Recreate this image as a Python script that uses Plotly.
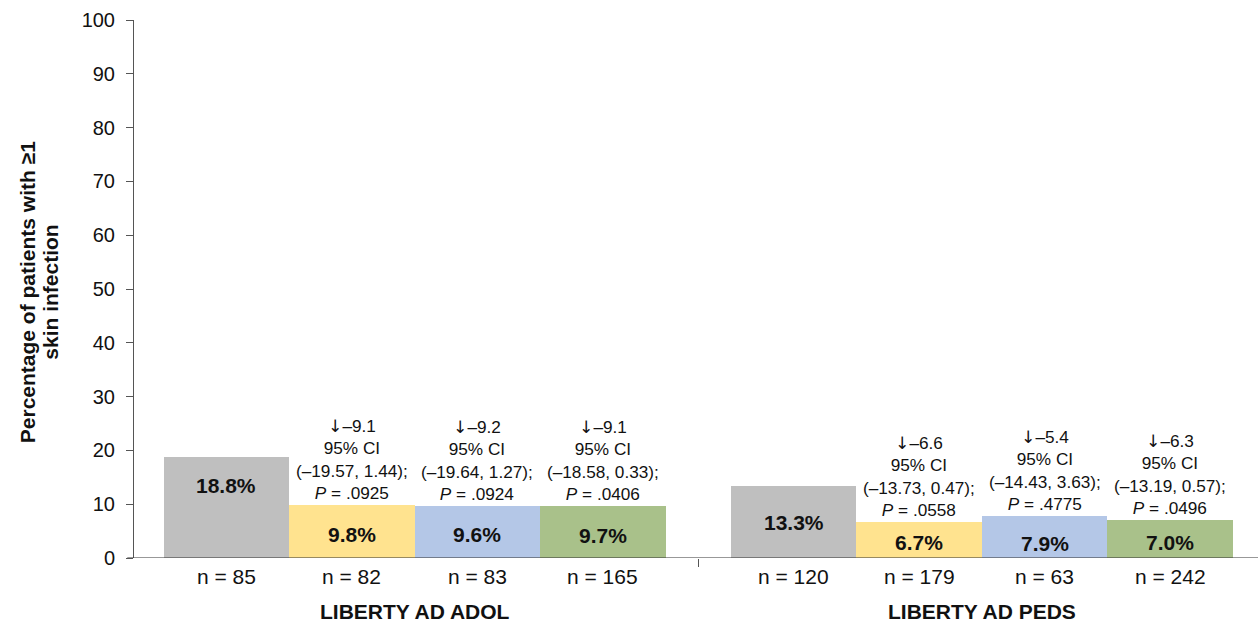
import plotly.graph_objects as go

# Trial data: % of patients with >=1 skin infection
groups = ["LIBERTY AD ADOL", "LIBERTY AD PEDS"]
adol_values = [18.8, 9.8, 9.6, 9.7]
peds_values = [13.3, 6.7, 7.9, 7.0]
adol_n = [85, 82, 83, 165]
peds_n = [120, 179, 63, 242]
adol_diff = [None, "–9.1", "–9.2", "–9.1"]
peds_diff = [None, "–6.6", "–5.4", "–6.3"]
adol_ci = [None, "(–19.57, 1.44)", "(–19.64, 1.27)", "(–18.58, 0.33)"]
peds_ci = [None, "(–13.73, 0.47)", "(–14.43, 3.63)", "(–13.19, 0.57)"]
adol_p = [None, ".0925", ".0924", ".0406"]
peds_p = [None, ".0558", ".4775", ".0496"]
y_ticks = [0, 10, 20, 30, 40, 50, 60, 70, 80, 90, 100]
y_title = ["Percentage of patients with ≥1", "skin infection"]

bar_colors = ["#BFBFBF", "#FFE38F", "#B4C7E7", "#A9C18A"]
# vertical placement of the value label inside each bar (fraction of bar height)
label_frac = [[0.72, 0.44, 0.45, 0.44], [0.49, 0.42, 0.35, 0.40]]

FONT = "Liberation Sans, Arial, Helvetica, sans-serif"
INK = "#111111"
GAP = 0.52  # spacing between the two trial groups, in bar widths

values = [adol_values, peds_values]
ns = [adol_n, peds_n]
diffs = [adol_diff, peds_diff]
cis = [adol_ci, peds_ci]
ps = [adol_p, peds_p]

fig = go.Figure()
annotations = []
for g in range(2):
    xs = [g * (4 + GAP) + i for i in range(4)]
    fig.add_trace(go.Bar(
        x=xs, y=values[g], width=1.0,
        marker=dict(color=bar_colors, line=dict(width=0)),
        showlegend=False, hoverinfo="x+y",
    ))
    for i in range(4):
        v = values[g][i]
        annotations.append(dict(
            x=xs[i], y=v * label_frac[g][i], xref="x", yref="y",
            text=f"<b>{v:.1f}%</b>", showarrow=False,
            font=dict(family=FONT, size=21, color=INK),
            yanchor="middle",
        ))
        annotations.append(dict(
            x=xs[i], y=0, xref="x", yref="y",
            text=f"n = {ns[g][i]}", showarrow=False,
            font=dict(family=FONT, size=21, color=INK),
            yanchor="middle", yshift=-18,
        ))
        if diffs[g][i] is not None:
            arrow = ('<span style="font-family:DejaVu Sans">↓</span>')
            annotations.append(dict(
                x=xs[i], y=v, xref="x", yref="y",
                text=(f"{arrow}{diffs[g][i]}<br>95% CI<br>{cis[g][i]};"
                      f"<br><i>P</i> = {ps[g][i]}"),
                showarrow=False, align="center",
                font=dict(family=FONT, size=17.2, color=INK),
                yanchor="bottom", yshift=0,
            ))
    annotations.append(dict(
        x=(xs[0] + xs[-1]) / 2, y=0, xref="x", yref="y",
        text=f"<b>{groups[g]}</b>", showarrow=False,
        font=dict(family=FONT, size=21, color=INK),
        yanchor="middle", yshift=-53,
    ))

# two-line y-axis title
for k, line in enumerate(y_title):
    annotations.append(dict(
        x=0, y=0.494, xref="paper", yref="paper",
        text=f"<b>{line}</b>", showarrow=False, textangle=-90,
        font=dict(family=FONT, size=21, color=INK),
        xanchor="center", yanchor="middle", xshift=-107 + 23.5 * k,
    ))

divider = 3 + 0.5 + GAP / 2

fig.update_layout(
    width=1258, height=623,
    margin=dict(l=134, r=0, t=20, b=65),
    paper_bgcolor="white", plot_bgcolor="white",
    bargap=0,
    annotations=annotations,
    xaxis=dict(
        range=[-0.737, 8.22], showgrid=False, zeroline=False,
        showline=False, tickvals=[divider], ticktext=[""],
        ticks="outside", ticklen=8, tickcolor="#555555", tickwidth=1,
        fixedrange=True,
    ),
    yaxis=dict(
        range=[0, 100], tickvals=y_ticks, showgrid=False, zeroline=False,
        showline=True, linecolor="#555555", linewidth=1,
        ticks="outside", ticklen=7, tickcolor="#555555",
        ticklabelstandoff=7,
        tickfont=dict(family=FONT, size=20, color=INK),
    ),
    shapes=[dict(type="line", xref="paper", yref="y", x0=-0.006, x1=1,
                 y0=0, y1=0, line=dict(color="#333333", width=1.2))],
)

fig.write_html("out.html")
